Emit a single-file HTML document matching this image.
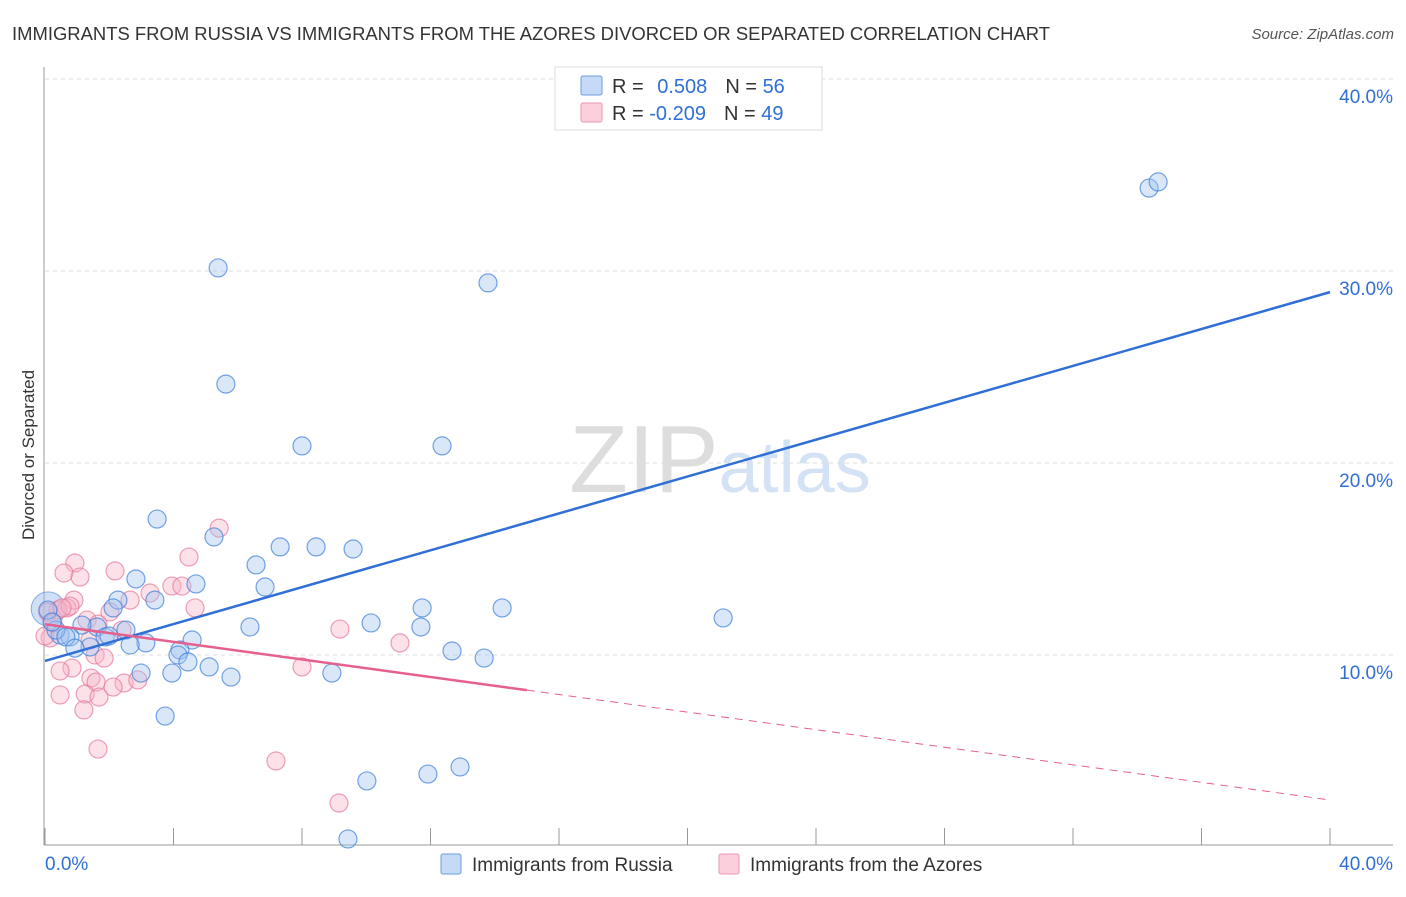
<!DOCTYPE html>
<html><head><meta charset="utf-8"><style>
body{margin:0;background:#fff;font-family:"Liberation Sans",sans-serif;}
svg text{font-family:"Liberation Sans",sans-serif;}
</style></head><body>
<svg id="chart" width="1406" height="892">
<text x="12" y="40" font-size="18" fill="#333" textLength="1038" lengthAdjust="spacingAndGlyphs">IMMIGRANTS FROM RUSSIA VS IMMIGRANTS FROM THE AZORES DIVORCED OR SEPARATED CORRELATION CHART</text>
<text x="1394" y="39" font-size="15" fill="#555" font-style="italic" text-anchor="end">Source: ZipAtlas.com</text>
<text x="34" y="455" font-size="17" fill="#333" text-anchor="middle" transform="rotate(-90 34 455)">Divorced or Separated</text>
<text x="720" y="492" font-size="96" fill="#ddd" text-anchor="middle" font-family="Liberation Serif">ZIP<tspan fill="#d4e2f5" font-family="Liberation Sans" font-size="72">atlas</tspan></text>
<g id="grid"></g><g id="pts"></g><g id="lines"></g>
<g>
<rect x="555" y="67" width="267" height="63" fill="#fff" stroke="#ddd"/>
<rect x="581" y="76" width="21" height="19" fill="#c5daf7" stroke="#6a9de0" rx="2"/>
<rect x="581" y="103" width="21" height="19" fill="#fbd0dc" stroke="#ea96b0" rx="2"/>
<text x="612" y="93" font-size="20" fill="#333">R = <tspan fill="#2f6fd6" dx="8">0.508</tspan><tspan fill="#333" dx="18">N = </tspan><tspan fill="#2f6fd6">56</tspan></text>
<text x="612" y="120" font-size="20" fill="#333">R = <tspan fill="#2f6fd6">-0.209</tspan><tspan fill="#333" dx="18">N = </tspan><tspan fill="#2f6fd6">49</tspan></text>
</g>
<g>
<rect x="441" y="854" width="20" height="20" fill="#c5daf7" stroke="#6a9de0" rx="2"/>
<text x="472" y="871" font-size="19" fill="#333">Immigrants from Russia</text>
<rect x="719" y="854" width="20" height="20" fill="#fbd0dc" stroke="#ea96b0" rx="2"/>
<text x="750" y="871" font-size="19" fill="#333">Immigrants from the Azores</text>
</g>
</svg>
<script>
const blueX=[5.39,13.79,5.63,8.0,12.36,3.49,5.26,7.32,8.44,9.59,6.57,2.83,4.70,6.85,2.27,3.42,2.12,11.74,14.23,21.11,10.15,6.38,11.70,2.52,1.62,1.15,1.87,4.58,3.14,2.65,1.40,0.47,0.78,0.34,4.20,4.14,12.67,13.67,4.45,5.11,2.99,3.95,5.79,8.93,3.74,10.02,11.92,12.92,9.43,34.37,34.65,0.09,0.65,0.93,1.99,0.22];
const blueY=[30.16,29.38,24.11,20.89,20.89,17.08,16.15,15.63,15.63,15.52,14.69,13.96,13.70,13.54,12.86,12.86,12.45,12.45,12.45,11.93,11.67,11.46,11.46,11.30,11.46,11.56,10.94,10.78,10.63,10.52,10.42,11.04,10.94,11.30,10.26,10.0,10.21,9.84,9.64,9.38,9.06,9.06,8.85,9.06,6.82,3.44,3.80,4.17,0.42,34.32,34.64,12.34,10.94,10.36,10.99,11.72];
const pinkX=[5.42,4.48,0.93,0.59,1.09,2.18,3.27,3.95,4.26,4.67,2.65,0.90,0.68,0.40,0.09,1.31,1.65,2.40,9.18,11.05,1.56,1.84,0.84,0.47,8.0,1.43,1.59,2.46,2.89,2.12,1.25,1.68,0.47,1.21,1.65,7.19,9.15,0.16,1.40,0.78,0.53,2.02,0.25,0];
const pinkY=[16.61,15.10,14.79,14.27,14.06,14.38,13.23,13.59,13.59,12.45,12.86,12.86,12.45,12.34,12.24,11.82,11.61,11.30,11.35,10.63,10.0,9.84,9.32,9.17,9.38,8.80,8.59,8.54,8.70,8.33,7.97,7.81,7.92,7.14,5.10,4.48,2.29,10.89,10.78,12.55,12.45,12.24,11.67,10.99];
const yTicks=[10,20,30,40];
const xTicks=[0,4,8,12,16,20,24,28,32,36,40];
const blueTrend=[9.69,28.9];
const pinkTrend=[11.6,2.45];
const pinkSolidEnd=15;
const NS='http://www.w3.org/2000/svg';
const sx=v=>45+v*32.125, sy=v=>847-v*19.2;
function mk(t,a,p){const e=document.createElementNS(NS,t);for(const k in a)e.setAttribute(k,a[k]);p.appendChild(e);return e;}
const grid=document.getElementById('grid');
for(const t of yTicks){
 const l=mk('line',{x1:45,x2:1393,y1:sy(t),y2:sy(t),stroke:'#ddd','stroke-dasharray':'4,4'},grid);
 
 
 const tx=mk('text',{x:1393,y:sy(t)+24,'font-size':19,fill:'#2f6fd6','text-anchor':'end'},grid);tx.textContent=t.toFixed(1)+'%';
 
 
}
mk('line',{x1:44,x2:44,y1:67,y2:845,stroke:'#999'},grid);
mk('line',{x1:44,x2:1393,y1:845,y2:845,stroke:'#999'},grid);
for(const t of xTicks){const tk=mk('line',{x1:sx(t),x2:sx(t),y1:828,y2:845,stroke:'#999'},grid);
 
 }
const x0=mk('text',{x:45,y:870,'font-size':19,fill:'#2f6fd6'},grid);x0.textContent='0.0%';


const x1=mk('text',{x:1393,y:870,'font-size':19,fill:'#2f6fd6','text-anchor':'end'},grid);x1.textContent='40.0%';


const pts=document.getElementById('pts');
const big=mk('circle',{cx:sx(0.1),cy:sy(12.4),r:17,fill:'rgba(150,185,235,0.45)',stroke:'rgba(70,130,220,0.6)'},pts);


pinkX.forEach((x,i)=>{const c=mk('circle',{cx:sx(x),cy:sy(pinkY[i]),r:9,fill:'rgba(248,180,200,0.4)',stroke:'rgba(230,120,155,0.7)','stroke-width':1.2},pts);
 
 });
blueX.forEach((x,i)=>{const c=mk('circle',{cx:sx(x),cy:sy(blueY[i]),r:9,fill:'rgba(160,195,240,0.4)',stroke:'rgba(60,125,215,0.7)','stroke-width':1.2},pts);
 
 });
const lines=document.getElementById('lines');
const bl=mk('line',{x1:sx(0),y1:sy(blueTrend[0]),x2:sx(40),y2:sy(blueTrend[1]),stroke:'#2f6fd6','stroke-width':2.5},lines);


const pm=pinkTrend[0]+(pinkTrend[1]-pinkTrend[0])*pinkSolidEnd/40;
const pl=mk('line',{x1:sx(0),y1:sy(pinkTrend[0]),x2:sx(pinkSolidEnd),y2:sy(pm),stroke:'#e6608e','stroke-width':2.5},lines);


const pd=mk('line',{x1:sx(pinkSolidEnd),y1:sy(pm),x2:sx(40),y2:sy(pinkTrend[1]),stroke:'#e6608e','stroke-width':1,'stroke-dasharray':'8,6'},lines);


</script>
</body></html>
